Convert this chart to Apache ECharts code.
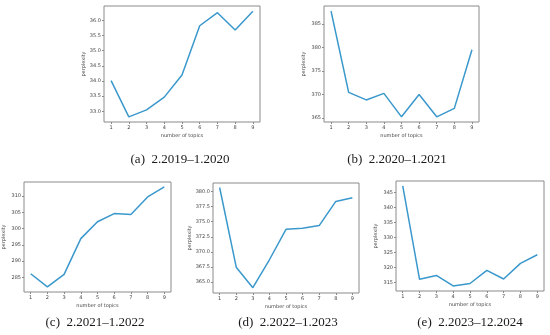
<!DOCTYPE html>
<html>
<head>
<meta charset="utf-8">
<script src="https://cdn.jsdelivr.net/npm/echarts@6/dist/echarts.min.js"></script>
<style>html,body{margin:0;padding:0;background:#fff;}#c{width:550px;height:335px;}</style>
</head>
<body>
<div id="c"></div>
<script>
var topics = [1, 2, 3, 4, 5, 6, 7, 8, 9];
var perpA = [34.01, 32.82, 33.05, 33.47, 34.2, 35.82, 36.25, 35.68, 36.3];
var perpB = [387.7, 370.4, 368.8, 370.2, 365.2, 369.95, 365.2, 367.0, 379.5];
var perpC = [286.1, 282.1, 285.9, 296.9, 302.1, 304.6, 304.3, 309.7, 312.8];
var perpD = [380.66, 367.47, 364.08, 368.7, 373.74, 373.9, 374.35, 378.35, 378.96];
var perpE = [347.3, 316.1, 317.4, 313.9, 314.7, 319.1, 316.2, 321.4, 324.3];
var ticksA = [33.0, 33.5, 34.0, 34.5, 35.0, 35.5, 36.0];
var ticksB = [365, 370, 375, 380, 385];
var ticksC = [285, 290, 295, 300, 305, 310];
var ticksD = [365.0, 367.5, 370.0, 372.5, 375.0, 377.5, 380.0];
var ticksE = [315, 320, 325, 330, 335, 340, 345];
var captions = ['(a)\u20022.2019\u20131.2020', '(b)\u20022.2020\u20131.2021', '(c)\u20022.2021\u20131.2022', '(d)\u20022.2022\u20131.2023', '(e)\u20022.2023\u201312.2024'];
var xLabel = 'number of topics';
var yLabel = 'perplexity';

var panels = [
  {data: perpA, ticks: ticksA, dec: 1, grid: {left: 104, top: 6, width: 156, height: 116}, ymin: 32.65, ymax: 36.47, cap: [180, 160]},
  {data: perpB, ticks: ticksB, dec: 0, grid: {left: 324, top: 6, width: 155, height: 116}, ymin: 364.1, ymax: 388.8, cap: [397, 160]},
  {data: perpC, ticks: ticksC, dec: 0, grid: {left: 24, top: 182, width: 147, height: 110}, ymin: 280.5, ymax: 314.3, cap: [95, 323]},
  {data: perpD, ticks: ticksD, dec: 1, grid: {left: 213, top: 183, width: 146, height: 110}, ymin: 363.2, ymax: 381.4, cap: [288, 323]},
  {data: perpE, ticks: ticksE, dec: 0, grid: {left: 396, top: 181, width: 148, height: 110}, ymin: 312.2, ymax: 348.9, cap: [470, 323]}
];

var lineColor = '#3a98cc';
var frameColor = '#8a8a8a';
var grids = [], xAxes = [], yAxes = [], series = [], graphics = [];
panels.forEach(function (p, i) {
  grids.push(Object.assign({show: true, borderColor: frameColor, borderWidth: 1, backgroundColor: '#fff'}, p.grid));
  xAxes.push({
    type: 'value', gridIndex: i, min: 0.6, max: 9.4,
    name: xLabel, nameLocation: 'middle', nameGap: 11,
    nameTextStyle: {fontSize: 5, color: '#444', fontFamily: 'DejaVu Sans'},
    axisLine: {show: false},
    splitLine: {show: false},
    axisTick: {show: true, inside: false, length: 2, lineStyle: {color: frameColor}, customValues: topics},
    axisLabel: {fontSize: 5, color: '#444', margin: 3, fontFamily: 'DejaVu Sans', customValues: topics}
  });
  yAxes.push({
    type: 'value', gridIndex: i, min: p.ymin, max: p.ymax,
    name: yLabel, nameLocation: 'middle', nameGap: 18, nameRotate: 90,
    nameTextStyle: {fontSize: 5, color: '#444', fontFamily: 'DejaVu Sans'},
    axisLine: {show: false},
    splitLine: {show: false},
    axisTick: {show: true, inside: false, length: 2, lineStyle: {color: frameColor}, customValues: p.ticks},
    axisLabel: {fontSize: 5, color: '#444', margin: 3, fontFamily: 'DejaVu Sans', customValues: p.ticks,
      formatter: (function (d) { return function (v) { return Number(v).toFixed(d); }; })(p.dec)}
  });
  series.push({
    type: 'line', xAxisIndex: i, yAxisIndex: i,
    data: topics.map(function (t, k) { return [t, p.data[k]]; }),
    symbol: 'none', lineStyle: {color: lineColor, width: 1.5}, animation: false
  });
  graphics.push({
    type: 'text', x: p.cap[0], y: p.cap[1],
    style: {text: captions[i], font: '13px "Liberation Serif"', fill: '#1a1a1a', align: 'center', verticalAlign: 'middle'}
  });
});

var chart = echarts.init(document.getElementById('c'), null, {renderer: 'canvas'});
chart.setOption({
  animation: false,
  backgroundColor: '#fff',
  grid: grids, xAxis: xAxes, yAxis: yAxes, series: series, graphic: graphics
});
</script>
</body>
</html>
